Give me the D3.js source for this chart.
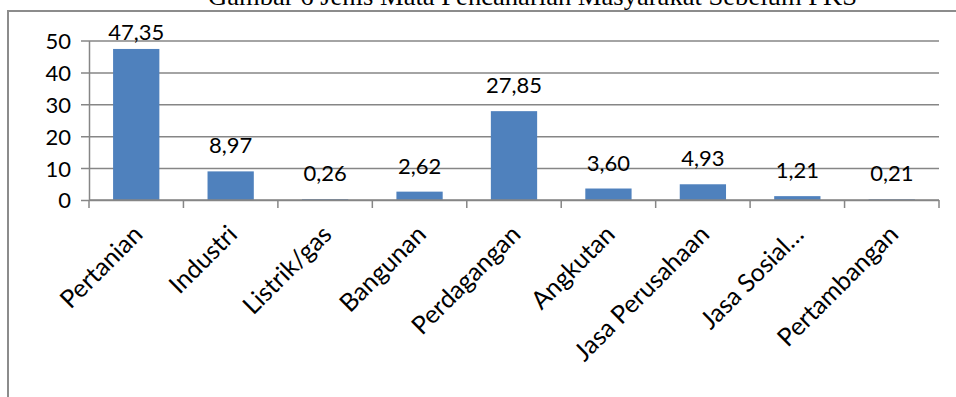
<!DOCTYPE html>
<html>
<head>
<meta charset="utf-8">
<script src="https://cdn.jsdelivr.net/npm/d3@7"></script>
<style>
  html, body { margin: 0; padding: 0; background: #fff; }
  svg { display: block; }
</style>
</head>
<body>
<svg id="chart" width="956" height="397"></svg>
<script>
// Jenis mata pencaharian masyarakat (persen)
const title = "Gambar 6 Jenis Mata Pencaharian Masyarakat Sebelum PKS";
const categories = ["Pertanian", "Industri", "Listrik/gas", "Bangunan", "Perdagangan",
                    "Angkutan", "Jasa Perusahaan", "Jasa Sosial…", "Pertambangan"];
const values = [47.35, 8.97, 0.26, 2.62, 27.85, 3.60, 4.93, 1.21, 0.21];
const valueLabels = ["47,35", "8,97", "0,26", "2,62", "27,85", "3,60", "4,93", "1,21", "0,21"];
const yTicks = [0, 10, 20, 30, 40, 50];

(function draw() {
  const svg = d3.select("#chart");
  const W = 956, H = 397;
  const gridColor = "#868686";
  const barColor = "#4f81bd";
  const font = "Lato, 'DejaVu Sans', sans-serif";

  // plot area
  const plotLeft = 89, plotRight = 939, plotBottom = 200, plotTop = 40.5;

  const x = d3.scaleBand()
    .domain(categories)
    .range([plotLeft, plotRight])
    .paddingInner(0.51)
    .paddingOuter(0.255);
  const step = x.step();

  const y = d3.scaleLinear().domain([0, 50]).range([plotBottom, plotTop]);

  // chart frame (left and top edges)
  svg.append("path")
    .attr("d", `M8,${H} L8,11 L${W},11`)
    .attr("fill", "none")
    .attr("stroke", "#8c8c8c")
    .attr("stroke-width", 2);

  // title, running above the frame's top edge
  svg.append("text")
    .attr("x", 208)
    .attr("y", 4.5)
    .attr("textLength", 649)
    .attr("lengthAdjust", "spacingAndGlyphs")
    .style("font-family", "'Liberation Serif', 'Times New Roman', serif")
    .style("font-size", "26px")
    .attr("fill", "#000")
    .text(title);

  // horizontal gridlines + y axis
  const yAxis = d3.axisLeft(y)
    .tickValues(yTicks)
    .tickSize(-(plotRight - plotLeft))
    .tickSizeOuter(0)
    .tickPadding(18)
    .tickFormat(d3.format("d"));

  const gy = svg.append("g")
    .attr("transform", `translate(${plotLeft},0)`)
    .call(yAxis);
  gy.select(".domain").attr("stroke", gridColor).attr("stroke-width", 1.5);
  gy.selectAll(".tick line")
    .attr("x1", -8)
    .attr("stroke", gridColor)
    .attr("stroke-width", 1.5);
  gy.selectAll(".tick text")
    .style("font-family", font)
    .style("font-size", "22px")
    .attr("fill", "#000")
    .attr("dy", "0.36em");

  // bars
  svg.append("g").selectAll("rect")
    .data(values)
    .join("rect")
    .attr("x", (d, i) => x(categories[i]))
    .attr("y", d => y(d))
    .attr("width", x.bandwidth())
    .attr("height", d => y(0) - y(d))
    .attr("fill", barColor);

  // category axis with tick marks on the category boundaries
  const boundaries = d3.range(categories.length + 1).map(k => plotLeft + k * step);
  svg.append("line")
    .attr("x1", plotLeft).attr("x2", plotRight)
    .attr("y1", y(0)).attr("y2", y(0))
    .attr("stroke", gridColor).attr("stroke-width", 1.5);
  svg.append("g").selectAll("line")
    .data(boundaries)
    .join("line")
    .attr("x1", d => d).attr("x2", d => d)
    .attr("y1", y(0)).attr("y2", y(0) + 8)
    .attr("stroke", gridColor).attr("stroke-width", 1.5);

  // rotated category labels
  svg.append("g").selectAll("text")
    .data(categories)
    .join("text")
    .attr("transform", d => `translate(${x(d) + x.bandwidth() / 2 + 8},236) rotate(-45)`)
    .attr("text-anchor", "end")
    .style("font-family", font)
    .style("font-size", "25px")
    .attr("fill", "#000")
    .text(d => d);

  // value labels above bars, kept inside the plot area
  const labelFloor = y(50) - 0.5;
  svg.append("g").selectAll("text")
    .data(values)
    .join("text")
    .attr("x", (d, i) => x(categories[i]) + x.bandwidth() / 2)
    .attr("y", d => Math.max(y(d) - 18, labelFloor))
    .attr("text-anchor", "middle")
    .style("font-family", font)
    .style("font-size", "22px")
    .attr("fill", "#000")
    .text((d, i) => valueLabels[i]);
})();
</script>
</body>
</html>
